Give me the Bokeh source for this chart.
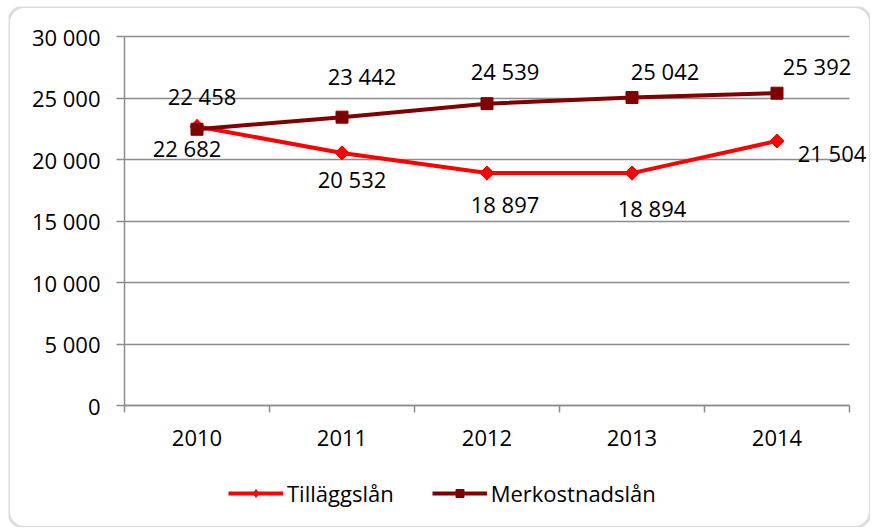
import math
from bokeh.plotting import figure
from bokeh.models import FixedTicker, ColumnDataSource, Legend, LegendItem, LabelSet, BoxAnnotation
from bokeh.core.properties import value
from bokeh.embed import file_html
from bokeh.resources import INLINE

# ---- data ----
years = ["2010", "2011", "2012", "2013", "2014"]
tillaggslan = [22682, 20532, 18897, 18894, 21504]
merkostnadslan = [22458, 23442, 24539, 25042, 25392]
y_ticks = [0, 5000, 10000, 15000, 20000, 25000, 30000]
y_tick_labels = ["0", "5 000", "10 000", "15 000", "20 000", "25 000", "30 000"]
series_names = ["Tilläggslån", "Merkostnadslån"]

# ---- styling (label offsets in px) ----
till_dx = [-10, 10, 18, 20, 55]
till_dy = [-21, -26, -31, -35, -12]
merk_dx = [5, 20, 18, 33, 40]
merk_dy = [33, 41, 33, 26, 27]

FONT = "Open Sans"
RED = "#FF0000"
DARK = "#800000"
GRID = "#8c8c8c"

# layout geometry (pixels)
PLOT_H = 369          # height of the 0..30000 band
CAT_W = 145           # width of one category
TOP_PAD = 30          # space above 30000
BOT_PAD = 122         # space below 0 (x labels + legend)
LEFT_PAD = 116        # space left of the value axis
RIGHT_PAD = 21        # space right of the last category
W = LEFT_PAD + CAT_W * len(years) + RIGHT_PAD
H = TOP_PAD + PLOT_H + BOT_PAD


def fmt(v):
    return f"{v:,}".replace(",", " ")


xc = [i + 0.5 for i in range(len(years))]
ymax = y_ticks[-1]
ppu = PLOT_H / ymax
y_start = -BOT_PAD / ppu
y_end = ymax + TOP_PAD / ppu
x_start = -LEFT_PAD / CAT_W
x_end = len(years) + RIGHT_PAD / CAT_W

p = figure(frame_width=W, frame_height=H,
           x_range=(x_start, x_end), y_range=(y_start, y_end),
           output_backend="svg", toolbar_location=None,
           min_border_left=0, min_border_top=0, min_border_right=0, min_border_bottom=0)
p.outline_line_color = None
p.background_fill_color = "white"
p.border_fill_color = "white"
p.styles = {"margin-left": "8px", "margin-top": "6px"}

# rounded chart border
p.add_layout(BoxAnnotation(fill_alpha=0, line_color=GRID, line_width=3, border_radius=16))

# x axis drawn at y = 0 inside the frame
p.xaxis.fixed_location = 0
p.xaxis.bounds = (0, len(years))
p.xaxis.ticker = FixedTicker(ticks=xc, minor_ticks=list(range(len(years) + 1)))
p.xaxis.major_label_overrides = {x: y for x, y in zip(xc, years)}
p.xaxis.major_tick_line_color = None
p.xaxis.major_tick_out = 7
p.xaxis.major_tick_in = 0
p.xaxis.minor_tick_out = 7
p.xaxis.minor_tick_in = 0
p.xaxis.minor_tick_line_color = GRID
p.xaxis.minor_tick_line_width = 1.5
p.xaxis.axis_line_color = GRID
p.xaxis.axis_line_width = 1.5
p.xaxis.major_label_standoff = 17

# y axis drawn at x = 0 inside the frame
p.yaxis.fixed_location = 0
p.yaxis.bounds = (y_ticks[0], y_ticks[-1])
p.yaxis.ticker = FixedTicker(ticks=y_ticks)
p.yaxis.major_label_overrides = {t: l for t, l in zip(y_ticks, y_tick_labels)}
p.yaxis.major_tick_out = 8
p.yaxis.major_tick_in = 0
p.yaxis.major_tick_line_color = GRID
p.yaxis.major_tick_line_width = 1.5
p.yaxis.minor_tick_line_color = None
p.yaxis.axis_line_color = GRID
p.yaxis.axis_line_width = 1.5
p.yaxis.major_label_standoff = 16

for ax in (p.xaxis, p.yaxis):
    ax.major_label_text_font = FONT
    ax.major_label_text_font_size = "22px"
    ax.major_label_text_color = "black"

p.xgrid.grid_line_color = None
p.ygrid.ticker = FixedTicker(ticks=y_ticks)
p.ygrid.bounds = (y_ticks[0], y_ticks[-1])
p.ygrid.cross_bounds = (0, len(years))
p.ygrid.grid_line_color = GRID
p.ygrid.grid_line_width = 1.5

src_t = ColumnDataSource(dict(x=xc, y=tillaggslan, lab=[fmt(v) for v in tillaggslan],
                              dx=till_dx, dy=till_dy))
src_m = ColumnDataSource(dict(x=xc, y=merkostnadslan, lab=[fmt(v) for v in merkostnadslan],
                              dx=merk_dx, dy=merk_dy))

lt = p.line("x", "y", source=src_t, line_color=RED, line_width=4)
# diamond used for the legend swatch (hidden under the rotated squares in the plot)
st_leg = p.scatter("x", "y", source=src_t, marker="diamond", size=14,
                   fill_color=RED, line_color=RED)
st = p.scatter("x", "y", source=src_t, marker="square", angle=math.pi / 4, size=10,
               fill_color=RED, line_color=RED)
lm = p.line("x", "y", source=src_m, line_color=DARK, line_width=4)
sm = p.scatter("x", "y", source=src_m, marker="square", size=12, fill_color=DARK, line_color=DARK)

for src in (src_t, src_m):
    p.add_layout(LabelSet(x="x", y="y", text="lab", source=src, x_offset="dx", y_offset="dy",
                          text_align="center", text_baseline="middle", text_font=value(FONT),
                          text_font_size=value("22px"), text_color="black"))

legend = Legend(items=[LegendItem(label=series_names[0], renderers=[lt, st_leg]),
                       LegendItem(label=series_names[1], renderers=[lm, sm])],
                orientation="horizontal", location=(220, 19), padding=0, margin=0,
                spacing=38, glyph_width=55, glyph_height=20, label_standoff=4,
                label_text_font=FONT, label_text_font_size="22px", label_text_color="black",
                border_line_color=None, background_fill_alpha=0)
p.add_layout(legend)

open("out.html", "w").write(file_html(p, INLINE))
